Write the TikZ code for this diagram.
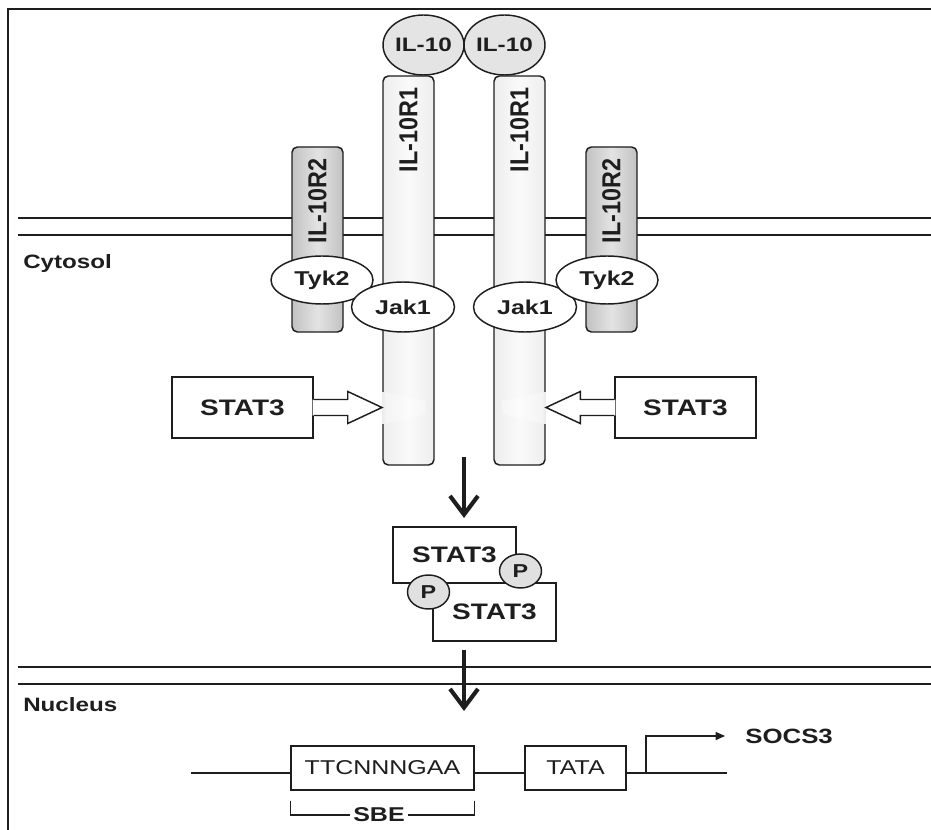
\documentclass[tikz,border=0pt]{standalone}
\usepackage{fontspec}
\setmainfont[FakeStretch=1.25]{Liberation Sans}
\newfontfamily\vfont[FakeStretch=0.9]{Liberation Sans}
\usetikzlibrary{arrows.meta,calc,shapes.geometric}
\definecolor{ink}{HTML}{1E1E1E}
\definecolor{ilfill}{HTML}{E4E4E4}
\definecolor{pfill}{HTML}{E0E0E0}
\begin{document}
\begin{tikzpicture}[x=0.75pt,y=-0.75pt,
  every node/.style={text=ink, inner sep=0pt},
  lw/.style={line width=1.1pt, draw=ink},
  membrane/.style={draw=ink, line width=1.5pt},
  rone/.style={lw, rounded corners=4pt, minimum width=38.25pt, minimum height=291.75pt,
    left color=gray!14, right color=gray!14, middle color=gray!4},
  rtwo/.style={lw, rounded corners=4pt, minimum width=38.25pt, minimum height=138.75pt,
    left color=gray!48, right color=gray!48, middle color=gray!22},
  vlab/.style={rotate=90, font=\vfont\fontsize{19.5pt}{21pt}\selectfont\bfseries},
  ilten/.style={ellipse, lw, fill=ilfill, minimum width=60.75pt, minimum height=45pt,
    font=\fontsize{14.6pt}{16pt}\selectfont\bfseries},
  kin/.style={ellipse, lw, fill=white, font=\fontsize{15pt}{17pt}\selectfont\bfseries},
  statbox/.style={rectangle, lw, fill=white, font=\fontsize{16.8pt}{18pt}\selectfont\bfseries},
  pball/.style={ellipse, lw, fill=pfill, minimum width=31.5pt, minimum height=25.5pt,
    font=\fontsize{14pt}{15pt}\selectfont\bfseries},
  bigarrow/.style={draw=ink, line width=3.1pt, -{Straight Barb[length=14pt,width=21pt,line width=3.1pt]}},
  dnabox/.style={rectangle, lw, fill=white, minimum height=33pt, font=\fontsize{15pt}{17pt}\selectfont},
  region/.style={anchor=west, font=\fontsize{14.5pt}{16pt}\selectfont\bfseries}
]
\useasboundingbox (0,0) rectangle (931,830);
\fill[white] (0,0) rectangle (931,830);
% frame
\draw[ink, line width=1.9pt] (931,9) -- (8,9) -- (8,830);
% membranes
\draw[membrane] (18,218) -- (931,218);
\draw[membrane] (18,235) -- (931,235);
\draw[membrane] (18,667) -- (931,667);
\draw[membrane] (18,684) -- (931,684);
\node[region] (cyto) at (23,264) {Cytosol};
\node[region] (nuc) at (23,705) {Nucleus};
% receptors
\node[rone] (r1l) at (408.5,270.5) {};
\node[rone] (r1r) at (519.5,270.5) {};
\node[rtwo] (r2l) at (317.5,239.5) {};
\node[rtwo] (r2r) at (611.5,239.5) {};
\node[vlab] (l1l) at (408.5,130) {IL-10R1};
\node[vlab] (l1r) at (519.5,130) {IL-10R1};
\node[vlab] (l2l) at (317.5,201) {IL-10R2};
\node[vlab] (l2r) at (611.5,201) {IL-10R2};
% ligands
\node[ilten] (ill) at (423.5,45) {IL-10};
\node[ilten] (ilr) at (504.5,45) {IL-10};
% kinases
\node[kin, minimum width=76.5pt, minimum height=36pt] (tyl) at (322,280) {Tyk2};
\node[kin, minimum width=77.25pt, minimum height=37.5pt] (jkl) at (403,307) {Jak1};
\node[kin, minimum width=77.25pt, minimum height=37.5pt] (jkr) at (525,307) {Jak1};
\node[kin, minimum width=76.5pt, minimum height=36pt] (tyr) at (607,280) {Tyk2};
% gaps in the receptor outline where STAT3 docks
\fill[gray!14] (381.6,392) rectangle (384.6,424);
\fill[gray!14] (543.4,392) rectangle (546.4,424);
\fill[white, opacity=0.35] (384.5,392) -- (426,401) -- (426,414) -- (384.5,424) -- cycle;
\fill[white, opacity=0.35] (543.5,392) -- (502,401) -- (502,414) -- (543.5,424) -- cycle;
% STAT3 boxes and open arrows
\node[statbox, minimum width=105.75pt, minimum height=45.75pt] (s3l) at (242.5,407.5) {STAT3};
\node[statbox, minimum width=105.75pt, minimum height=45.75pt] (s3r) at (685.5,407.5) {STAT3};
\coordinate (tipl) at (382,407.5);
\coordinate (tipr) at (546,407.5);
\fill[white] ($(s3l.east)+(-1,-8)$) -- ($(s3l.east)+(34,-8)$) -- ($(s3l.east)+(34,-16)$) -- (tipl)
  -- ($(s3l.east)+(34,16)$) -- ($(s3l.east)+(34,8)$) -- ($(s3l.east)+(-1,8)$) -- cycle;
\draw[lw, line join=miter] ($(s3l.east)+(0,-8)$) -- ($(s3l.east)+(34,-8)$) -- ($(s3l.east)+(34,-16)$) -- (tipl)
  -- ($(s3l.east)+(34,16)$) -- ($(s3l.east)+(34,8)$) -- ($(s3l.east)+(0,8)$);
\fill[white] ($(s3r.west)+(1,-8)$) -- ($(s3r.west)+(-34,-8)$) -- ($(s3r.west)+(-34,-16)$) -- (tipr)
  -- ($(s3r.west)+(-34,16)$) -- ($(s3r.west)+(-34,8)$) -- ($(s3r.west)+(1,8)$) -- cycle;
\draw[lw, line join=miter] ($(s3r.west)+(0,-8)$) -- ($(s3r.west)+(-34,-8)$) -- ($(s3r.west)+(-34,-16)$) -- (tipr)
  -- ($(s3r.west)+(-34,16)$) -- ($(s3r.west)+(-34,8)$) -- ($(s3r.west)+(0,8)$);
% dimer
\coordinate (a1s) at (464,457);
\coordinate (a1e) at (464,518);
\draw[bigarrow] (a1s) -- (a1e);
\node[statbox, minimum width=92.25pt, minimum height=43.5pt] (lo) at (494.5,612) {STAT3};
\node[statbox, minimum width=92.25pt, minimum height=42pt] (up) at (454.5,555) {STAT3};
\node[pball] (pr) at (520.5,571) {P};
\node[pball] (pl) at (428.5,592) {P};
\coordinate (a2s) at (464,650);
\coordinate (a2e) at (464,711);
\draw[bigarrow] (a2s) -- (a2e);
% DNA
\coordinate (dnal) at (191,773);
\coordinate (dnar) at (727,773);
\draw[lw] (dnal) -- (dnar);
\node[dnabox, minimum width=137.25pt] (ttc) at (382.5,768) {TTCNNNGAA};
\node[dnabox, minimum width=75.75pt] (tata) at (575.5,768) {TATA};
\coordinate (prs) at (646,773);
\coordinate (pre) at (725,736);
\draw[lw, -{Triangle[length=7pt,width=6pt]}] (prs) |- (pre);
\node[anchor=west, font=\fontsize{15.5pt}{17pt}\selectfont\bfseries] (socs) at (745,736) {SOCS3};
\node[font=\fontsize{15pt}{17pt}\selectfont\bfseries, inner xsep=2.5pt] (sbe) at (379,815) {SBE};
\draw[lw] ($(ttc.south west)+(0,10)$) |- (sbe.west);
\draw[lw] ($(ttc.south east)+(0,10)$) |- (sbe.east);
\end{tikzpicture}
\end{document}
